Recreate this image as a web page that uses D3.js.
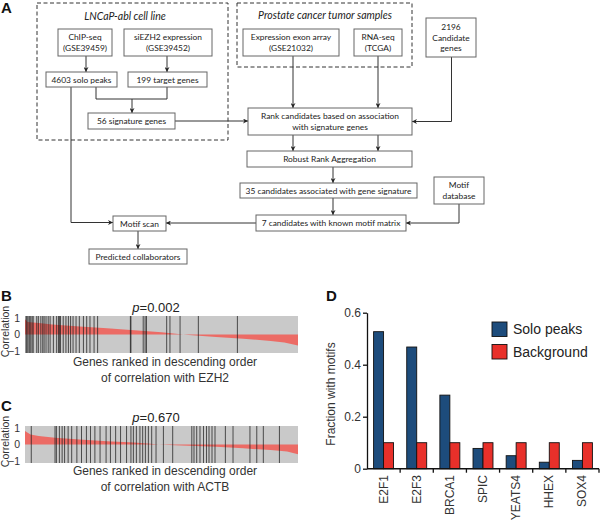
<!DOCTYPE html>
<html><head><meta charset="utf-8">
<script src="https://cdn.jsdelivr.net/npm/d3@7"></script>
<style>body{margin:0;background:#fff}svg{display:block}</style>
</head><body>
<svg id="c" width="600" height="522"></svg>
<script>
// ---------- DATA ----------
// Panel D
const genes = ["E2F1","E2F3","BRCA1","SPIC","YEATS4","HHEX","SOX4"];
const series = ["Solo peaks","Background"];
const soloPeaks = [0.527,0.468,0.283,0.078,0.050,0.025,0.032];
const background = [0.10,0.10,0.10,0.10,0.10,0.10,0.10];
const dTicks = [0,0.2,0.4,0.6];
// Panel B (EZH2): sorted correlation curve (rank percentile, correlation) and signature gene ranks
const curveRankB = [0,1,5,10,20,30,40,50,57,60,70,80,90,95,100];
const curveCorB  = [0.9,0.75,0.68,0.6,0.48,0.37,0.25,0.13,0.02,-0.03,-0.15,-0.25,-0.38,-0.47,-0.65];
const sigRanksB = [0.4,0.7,1.1,1.6,2.1,2.6,3.0,4.3,4.9,5.8,6.5,7.0,7.7,8.5,9.2,10.4,11.6,12.3,12.6,13.0,14.0,15.0,15.9,16.7,17.6,18.7,19.9,21.4,22.6,23.8,25.3,26.6,38.6,38.8,43.3,44.0,44.5,51.9,53.1,56.8,63.5,77.8];
// Panel C (ACTB)
const curveRankC = [0,2,5,11,20,30,40,46,49,55,60,70,80,90,96,100];
const curveCorC  = [0.8,0.6,0.5,0.4,0.3,0.2,0.12,0.05,0.0,-0.04,-0.07,-0.14,-0.23,-0.33,-0.42,-0.58];
const sigRanksC = [2.3,11.0,11.5,12.6,13.6,14.5,15.8,17.1,19.0,20.7,22.5,24.0,25.6,27.5,29.7,31.3,33.2,35.0,37.2,38.8,39.7,40.8,42.1,43.1,44.1,45.2,46.4,48.0,50.7,54.1,61.1,61.9,62.9,64.1,65.4,66.5,67.4,68.5,69.6,73.4,76.2,82.4,84.9,87.3,93.2];
const corTicks = [1,0,-1];
// Panel A flowchart
const nodeLabels = {
  chip:["ChIP-seq","(GSE39459)"], siezh2:["siEZH2 expression","(GSE39452)"],
  solo:["4603 solo peaks"], target:["199 target genes"], sig:["56 signature genes"],
  exon:["Expression exon array","(GSE21032)"], rnaseq:["RNA-seq","(TCGA)"],
  cand:["2196","Candidate","genes"],
  rank:["Rank candidates based on association","with signature genes"],
  rra:["Robust Rank Aggregation"], c35:["35 candidates associated with gene signature"],
  motifdb:["Motif","database"], c7:["7 candidates with known motif matrix"],
  scan:["Motif scan"], pred:["Predicted collaborators"]
};
const groupTitles = {cell:"LNCaP-abl cell line", tumor:"Prostate cancer tumor samples"};

// ---------- LAYOUT ----------
const boxLayout = {
  chip:[58,29,112,56], siezh2:[124,29,212,56], solo:[46,72,117,87], target:[128,72,207,87],
  sig:[88,113,175,129], exon:[243,29,339,56], rnaseq:[354,29,402,56], cand:[426,18,476,57],
  rank:[248,108,412,135], rra:[247,151,412,167], c35:[240,183,417,198],
  motifdb:[434,177,484,204], c7:[256,215,406,231], scan:[113,216,166,231], pred:[89,249,187,264]
};
const groupLayout = {cell:[37,3,228,140,125,20], tumor:[237,3,412,67,325,19]};
const edges = [
  {p:[[86,56],[86,72]],a:1},{p:[[167,56],[167,72]],a:1},
  {p:[[96,87],[96,99],[167,99],[167,87]],a:0},{p:[[132,99],[132,113]],a:1},
  {p:[[175,121],[248,121]],a:1},{p:[[71,87],[71,222.5],[113,222.5]],a:1},
  {p:[[293,56],[293,108]],a:1},{p:[[378,56],[378,108]],a:1},
  {p:[[451.5,57],[451.5,121.5],[412,121.5]],a:1},
  {p:[[293,135],[293,151]],a:1},{p:[[378,135],[378,151]],a:1},
  {p:[[333,167],[333,183]],a:1},{p:[[333,198],[333,215]],a:1},
  {p:[[459,204],[459,223],[406,223]],a:1},{p:[[256,223],[166,223]],a:1},
  {p:[[138,231],[138,249]],a:1}
];

const svg = d3.select("#c");
const sans = "'Liberation Sans', Arial, Helvetica, sans-serif";
const fcFont = "Lato, 'Open Sans', sans-serif";

function panelLetter(t,x,y){
  svg.append("text").attr("x",x).attr("y",y).text(t)
    .attr("font-family",sans).attr("font-weight","bold").attr("font-size",15).attr("fill","#111");
}
panelLetter("A",1,13); panelLetter("B",1,301); panelLetter("C",1,411); panelLetter("D",326,301);

// ---------- Panel A ----------
const A = svg.append("g");
svg.append("defs").append("marker").attr("id","arr").attr("viewBox","0 0 10 10")
  .attr("refX",10).attr("refY",5).attr("markerWidth",5).attr("markerHeight",5)
  .attr("markerUnits","userSpaceOnUse").attr("orient","auto")
  .append("path").attr("d","M0,0 L10,5 L0,10 L3,5 Z").attr("fill","#222");

Object.keys(groupLayout).forEach(k=>{
  const g = groupLayout[k];
  A.append("rect").attr("x",g[0]).attr("y",g[1]).attr("width",g[2]-g[0]).attr("height",g[3]-g[1])
    .attr("fill","none").attr("stroke","#333").attr("stroke-width",1).attr("stroke-dasharray","4,2.5");
  A.append("text").attr("x",g[4]).attr("y",g[5]).attr("text-anchor","middle")
    .attr("font-family",fcFont).attr("font-style","italic").attr("font-size",10.5).attr("fill","#222")
    .text(groupTitles[k]);
});
const line = d3.line();
edges.forEach(e=>{
  A.append("path").attr("d",line(e.p)).attr("fill","none").attr("stroke","#333").attr("stroke-width",1)
    .attr("marker-end",e.a?"url(#arr)":null);
});
Object.keys(boxLayout).forEach(k=>{
  const b = boxLayout[k], lines = nodeLabels[k];
  A.append("rect").attr("x",b[0]).attr("y",b[1]).attr("width",b[2]-b[0]).attr("height",b[3]-b[1])
    .attr("fill","#fff").attr("stroke","#666").attr("stroke-width",1);
  const cx=(b[0]+b[2])/2, cy=(b[1]+b[3])/2, lh=10.5;
  lines.forEach((t,i)=>{
    A.append("text").attr("x",cx).attr("y",cy+(i-(lines.length-1)/2)*lh+3)
      .attr("text-anchor","middle").attr("font-family",fcFont).attr("font-size",8.4)
      .attr("fill","#222").text(t);
  });
});

// ---------- Panels B & C ----------
function strip(top, bottom, curveRank, curveCor, sigRanks, pval, l1, l2, yl1){
  const x = d3.scaleLinear().domain([0,100]).range([25,298]);
  const y = d3.scaleLinear().domain([-1.1,1.1]).range([bottom,top]);
  const g = svg.append("g");
  g.append("rect").attr("x",x(0)).attr("y",top).attr("width",x(100)-x(0)).attr("height",bottom-top).attr("fill","#c9c9c9");
  const pts = curveRank.map((r,i)=>({r,c:curveCor[i]}));
  g.append("path").datum(pts).attr("d",d3.area().x(d=>x(d.r)).y0(y(0)).y1(d=>y(d.c)))
    .attr("fill","#f0605a").attr("opacity",0.9);
  g.selectAll("line.sig").data(sigRanks).join("line").attr("class","sig")
    .attr("x1",d=>x(d)).attr("x2",d=>x(d)).attr("y1",top).attr("y2",bottom)
    .attr("stroke","#1a1a1a").attr("stroke-width",0.9).attr("opacity",0.8);
  const ax = g.append("g").attr("transform",`translate(${x(0)},0)`)
    .call(d3.axisLeft(y).tickValues(corTicks).tickSize(0).tickPadding(5).tickFormat(d3.format("d")));
  ax.select(".domain").remove();
  ax.selectAll("text").attr("font-family",sans).attr("font-size",10.5).attr("fill","#333");
  g.append("text").attr("transform",`translate(8.5,${(top+bottom)/2-3}) rotate(-90)`)
    .attr("text-anchor","middle").attr("font-family",sans).attr("font-size",10.5).attr("fill","#333").text("Correlation");
  const pt = g.append("text").attr("x",156).attr("y",top-4).attr("text-anchor","middle")
    .attr("font-family",sans).attr("font-size",13).attr("fill","#222");
  pt.append("tspan").attr("font-style","italic").text(pval[0]);
  pt.append("tspan").text(pval[1]);
  g.append("text").attr("x",165).attr("y",yl1).attr("text-anchor","middle").attr("font-family",sans)
    .attr("font-size",12).attr("fill","#333").text(l1);
  g.append("text").attr("x",165).attr("y",yl1+16).attr("text-anchor","middle").attr("font-family",sans)
    .attr("font-size",12).attr("fill","#333").text(l2);
}
strip(316,353,curveRankB,curveCorB,sigRanksB,["p","=0.002"],"Genes ranked in descending order","of correlation with EZH2",366);
strip(426,463,curveRankC,curveCorC,sigRanksC,["p","=0.670"],"Genes ranked in descending order","of correlation with ACTB",475);

// ---------- Panel D ----------
const colors = {"Solo peaks":"#1d4c7c","Background":"#e8302a"};
const x0 = d3.scaleBand().domain(genes).range([367,599]).padding(0);
const x1 = d3.scaleBand().domain(series).range([0,x0.bandwidth()]).paddingInner(0).paddingOuter(0.66);
const yD = d3.scaleLinear().domain([0,0.6]).range([468.7,312.7]);
const D = svg.append("g");
const rows = genes.map((g,i)=>({g, vals:[{s:"Solo peaks",v:soloPeaks[i]},{s:"Background",v:background[i]}]}));
D.selectAll("g.grp").data(rows).join("g").attr("class","grp").attr("transform",d=>`translate(${x0(d.g)},0)`)
  .selectAll("rect").data(d=>d.vals).join("rect")
  .attr("x",d=>x1(d.s)).attr("width",x1.bandwidth()).attr("y",d=>yD(d.v)).attr("height",d=>yD(0)-yD(d.v))
  .attr("fill",d=>colors[d.s]).attr("stroke","#111").attr("stroke-width",0.9);
const yAx = D.append("g").attr("transform","translate(367,0)")
  .call(d3.axisLeft(yD).tickValues(dTicks).tickSize(4).tickSizeOuter(0).tickPadding(2)
    .tickFormat(d=>d===0?"0":d3.format(".1f")(d)));
yAx.select(".domain").attr("stroke","#111").attr("stroke-width",1.3);
yAx.selectAll(".tick line").attr("stroke","#111").attr("stroke-width",1.3);
yAx.selectAll("text").attr("font-family",sans).attr("font-size",12).attr("fill","#333");
D.append("line").attr("x1",367).attr("x2",599).attr("y1",yD(0)).attr("y2",yD(0)).attr("stroke","#111").attr("stroke-width",1.5);
D.selectAll("line.xt").data(genes).join("line").attr("class","xt")
  .attr("x1",d=>x0(d)+x0.bandwidth()).attr("x2",d=>x0(d)+x0.bandwidth())
  .attr("y1",yD(0)).attr("y2",yD(0)+4).attr("stroke","#111").attr("stroke-width",1.3);
D.selectAll("text.xl").data(genes).join("text").attr("class","xl")
  .attr("transform",d=>`translate(${x0(d)+x0.bandwidth()/2+4},475) rotate(-90)`)
  .attr("text-anchor","end").attr("font-family",sans).attr("font-size",12).attr("fill","#333").text(d=>d);
D.append("text").attr("transform",`translate(335,394) rotate(-90)`).attr("text-anchor","middle")
  .attr("font-family",sans).attr("font-size",12).attr("fill","#333").text("Fraction with motifs");
const leg = D.selectAll("g.leg").data(series).join("g").attr("class","leg")
  .attr("transform",(d,i)=>`translate(492,${322+i*22.5})`);
leg.append("rect").attr("width",15).attr("height",14.5).attr("fill",d=>colors[d]).attr("stroke","#111").attr("stroke-width",0.9);
leg.append("text").attr("x",21).attr("y",12).attr("font-family",sans).attr("font-size",14).attr("fill","#222").text(d=>d);
</script>
</body></html>
